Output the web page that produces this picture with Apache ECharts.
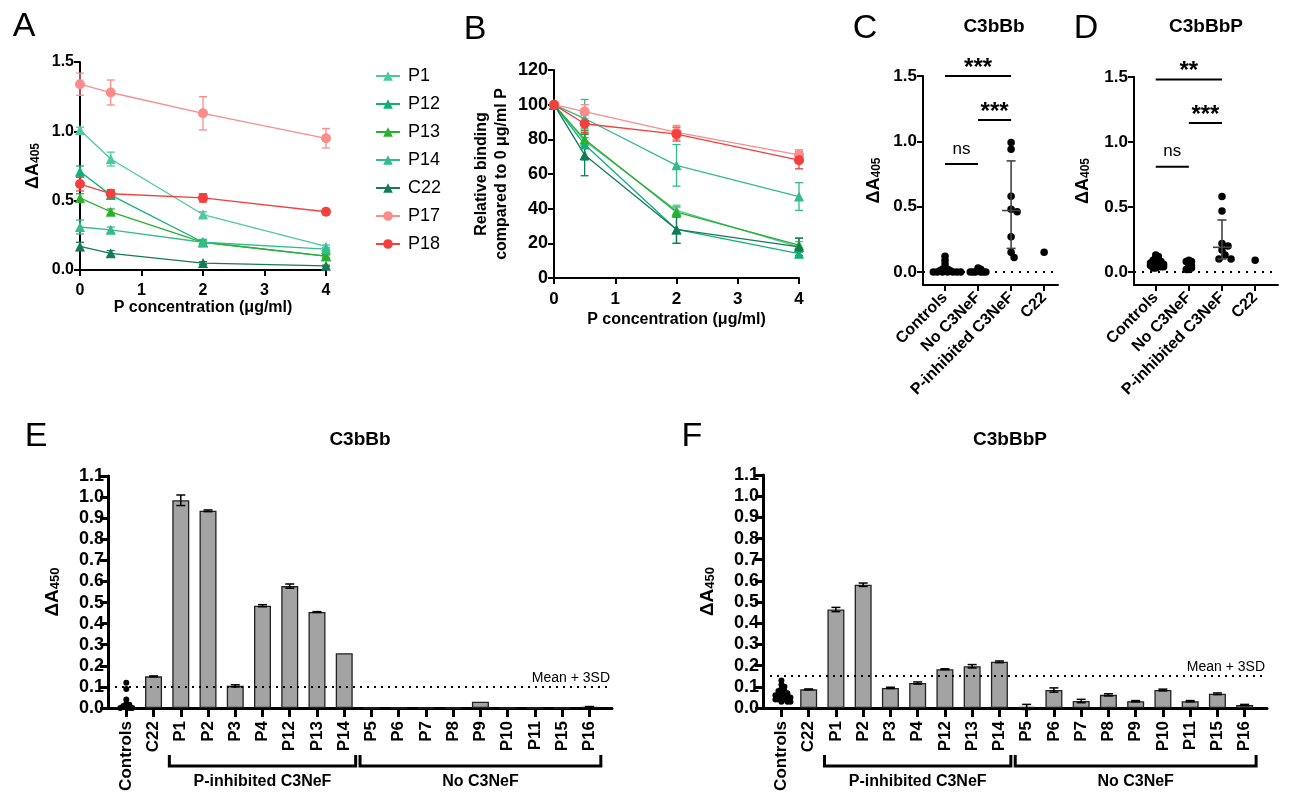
<!DOCTYPE html>
<html><head><meta charset="utf-8">
<script src="https://cdn.jsdelivr.net/npm/echarts@6/dist/echarts.min.js"></script>
<style>html,body{margin:0;padding:0;background:#fff}#c{width:1292px;height:803px}</style>
</head><body><div id="c"></div>
<script>
// ---------- DATA ----------
const conc = [0, 0.5, 2, 4];
const lineNames = ['P1', 'P12', 'P13', 'P14', 'C22', 'P17', 'P18'];
// Panel A: absolute binding (ΔA405)
const absP1 = [1.01, 0.80, 0.40, 0.17];
const absP1Err = [0.02, 0.05, 0.02, 0.01];
const absP12 = [0.71, 0.54, 0.20, 0.10];
const absP12Err = [0.04, 0.03, 0.02, 0.01];
const absP13 = [0.52, 0.42, 0.20, 0.10];
const absP13Err = [0.03, 0.02, 0.01, 0.01];
const absP14 = [0.31, 0.29, 0.20, 0.15];
const absP14Err = [0.05, 0.02, 0.02, 0.01];
const absC22 = [0.17, 0.12, 0.05, 0.03];
const absC22Err = [0.03, 0.02, 0.01, 0.005];
const absP17 = [1.34, 1.28, 1.13, 0.95];
const absP17Err = [0.08, 0.09, 0.12, 0.07];
const absP18 = [0.62, 0.55, 0.52, 0.42];
const absP18Err = [0.05, 0.03, 0.03, 0.01];
// Panel B: relative binding (%)
const relP1 = [100, 79, 39, 18];
const relP1Err = [0, 4, 3, 3];
const relP12 = [100, 77, 28, 14];
const relP12Err = [0, 9, 8, 2];
const relP13 = [100, 80, 38, 19];
const relP13Err = [0, 5, 3, 4];
const relP14 = [100, 92, 65, 47];
const relP14Err = [0, 11, 12, 8];
const relC22 = [100, 71, 28, 18];
const relC22Err = [0, 12, 8, 5];
const relP17 = [100, 96, 84, 71];
const relP17Err = [0, 4, 4, 3];
const relP18 = [100, 89, 83, 68];
const relP18Err = [0, 5, 4, 5];
// Panels C/D
const groupCats = ['Controls', 'No C3NeF', 'P-inhibited C3NeF', 'C22'];
const cControls = [0.12, 0.09, 0.06, 0.03, 0.02, 0.02, 0.01, 0.01, 0.01, 0.0, 0.0, 0.0, 0.0, 0.0, 0.0, 0.0];
const cNoC3NeF = [0.03, 0.02, 0.01, 0.0, 0.0, 0.0, 0.0, 0.0, 0.0];
const cPInhib = [0.99, 0.94, 0.58, 0.48, 0.46, 0.27, 0.15, 0.11];
const cC22 = [0.15];
const cPInhibSummary = [0.18, 0.47, 0.85];
const cSig = [[0, 2, 1.5], [1, 2, 1.163], [0, 1, 0.826]];
const cSigLabels = ['***', '***', 'ns'];
const dControls = [0.13, 0.12, 0.11, 0.10, 0.09, 0.09, 0.08, 0.08, 0.07, 0.07, 0.07, 0.06, 0.06, 0.06, 0.05, 0.05, 0.05, 0.04, 0.04, 0.04, 0.03, 0.03];
const dNoC3NeF = [0.09, 0.08, 0.08, 0.06, 0.05, 0.04, 0.03, 0.02, 0.02];
const dPInhib = [0.58, 0.47, 0.22, 0.20, 0.17, 0.13, 0.10, 0.10];
const dC22 = [0.09];
const dPInhibSummary = [0.10, 0.19, 0.40];
const dSig = [[0, 2, 1.48], [1, 2, 1.147], [0, 1, 0.81]];
const dSigLabels = ['**', '***', 'ns'];
// Panels E/F
const barCats = ['Controls', 'C22', 'P1', 'P2', 'P3', 'P4', 'P12', 'P13', 'P14', 'P5', 'P6', 'P7', 'P8', 'P9', 'P10', 'P11', 'P15', 'P16'];
const eBars = [null, 0.15, 0.985, 0.935, 0.105, 0.485, 0.578, 0.455, 0.26, 0, 0, 0, 0, 0.03, 0, 0, 0, 0.005];
const eErr = [null, 0.002, 0.025, 0.004, 0.005, 0.005, 0.01, 0.002, 0, 0, 0, 0, 0, 0, 0, 0, 0, 0.002];
const eControls = [0.12, 0.09, 0.04, 0.02, 0.015, 0.01, 0.005, 0.0, 0.0, 0.0];
const eThreshold = 0.105;
const fBars = [null, 0.088, 0.465, 0.582, 0.095, 0.118, 0.183, 0.197, 0.218, 0.005, 0.085, 0.033, 0.062, 0.032, 0.085, 0.032, 0.067, 0.014];
const fErr = [null, 0.002, 0.01, 0.008, 0.003, 0.005, 0.002, 0.008, 0.004, 0.012, 0.01, 0.008, 0.005, 0.003, 0.004, 0.003, 0.004, 0.003];
const fControls = [0.13, 0.11, 0.10, 0.09, 0.08, 0.08, 0.07, 0.07, 0.06, 0.06, 0.06, 0.05, 0.05, 0.05, 0.04, 0.04, 0.04, 0.03, 0.03, 0.03];
const fThreshold = 0.15;
const barGroups = [['P-inhibited C3NeF', 'P1', 'P14'], ['No C3NeF', 'P5', 'P16']];

// ---------- STYLE ----------
const FF = '"Liberation Sans", Arial, Helvetica, sans-serif';
const lineColors = ['#4cc9a1', '#10b07c', '#2bb02b', '#33bb8c', '#157a57', '#fb8c8c', '#f43f3f'];
const lineSymbols = ['triangle', 'triangle', 'triangle', 'triangle', 'triangle', 'circle', 'circle'];
const absSets = [[absP1, absP1Err], [absP12, absP12Err], [absP13, absP13Err], [absP14, absP14Err], [absC22, absC22Err], [absP17, absP17Err], [absP18, absP18Err]];
const relSets = [[relP1, relP1Err], [relP12, relP12Err], [relP13, relP13Err], [relP14, relP14Err], [relC22, relC22Err], [relP17, relP17Err], [relP18, relP18Err]];

function swarm(vals, yScale, xScale, d) {
  const placed = [], out = [];
  vals.forEach(v => {
    const y = v * yScale;
    let off = 0;
    for (let i = 0; i < 80; i++) {
      const k = i === 0 ? 0 : (i % 2 ? 1 : -1) * Math.ceil(i / 2);
      const cand = k * d * 0.5;
      if (placed.every(p => (p[0] - cand) ** 2 + (p[1] - y) ** 2 >= d * d)) { off = cand; break; }
    }
    placed.push([off, y]);
    out.push(off / xScale);
  });
  return out;
}
function swarmData(vals, idx, yScale, xScale, d) {
  const offs = swarm(vals, yScale, xScale, d);
  return vals.map((v, i) => [idx + offs[i], v]);
}

function errRender(cap, lw) {
  return function (params, api) {
    const x = api.value(0), y = api.value(1), e = api.value(2);
    if (!e) return null;
    const t = api.coord([x, y + e]), b = api.coord([x, y - e]);
    const st = { stroke: api.visual('color'), lineWidth: lw };
    return { type: 'group', children: [
      { type: 'line', shape: { x1: t[0], y1: t[1], x2: b[0], y2: b[1] }, style: st },
      { type: 'line', shape: { x1: t[0] - cap, y1: t[1], x2: t[0] + cap, y2: t[1] }, style: st },
      { type: 'line', shape: { x1: b[0] - cap, y1: b[1], x2: b[0] + cap, y2: b[1] }, style: st }
    ] };
  };
}
function summaryRender(params, api) {
  const x = api.value(0), lo = api.value(1), mid = api.value(2), hi = api.value(3);
  const pl = api.coord([x, lo]), pm = api.coord([x, mid]), ph = api.coord([x, hi]);
  const st = { stroke: '#444', lineWidth: 1.6 };
  return { type: 'group', children: [
    { type: 'line', shape: { x1: pl[0], y1: pl[1], x2: ph[0], y2: ph[1] }, style: st },
    { type: 'line', shape: { x1: pl[0] - 4.5, y1: pl[1], x2: pl[0] + 4.5, y2: pl[1] }, style: st },
    { type: 'line', shape: { x1: ph[0] - 4.5, y1: ph[1], x2: ph[0] + 4.5, y2: ph[1] }, style: st },
    { type: 'line', shape: { x1: pm[0] - 9, y1: pm[1], x2: pm[0] + 9, y2: pm[1] }, style: st }
  ] };
}
function sigRender(labels) {
  return function (params, api) {
    const p1 = api.coord([api.value(0), api.value(2)]), p2 = api.coord([api.value(1), api.value(2)]);
    const lab = labels[params.dataIndex];
    const isNs = lab === 'ns';
    return { type: 'group', children: [
      { type: 'line', shape: { x1: p1[0], y1: p1[1], x2: p2[0], y2: p2[1] }, style: { stroke: '#000', lineWidth: 2 } },
      { type: 'text', x: (p1[0] + p2[0]) / 2, y: p1[1] - (isNs ? 15 : 8),
        style: { text: lab, font: (isNs ? 'normal 17px ' : 'bold 24px ') + FF, fill: '#000', align: 'center', verticalAlign: 'middle', textAlign: 'center', textVerticalAlign: 'middle' } }
    ] };
  };
}
function bracketRender(params, api) {
  const a = api.coord([api.value(0), 0]), b = api.coord([api.value(1), 0]);
  const y0 = a[1];
  const st = { stroke: '#000', lineWidth: 3 };
  const yb = y0 + 58;
  return { type: 'group', children: [
    { type: 'polyline', shape: { points: [[a[0], y0 + 47], [a[0], yb], [b[0], yb], [b[0], y0 + 47]] }, style: Object.assign({ fill: 'none' }, st) },
    { type: 'text', x: (a[0] + b[0]) / 2, y: y0 + 74,
      style: { text: barGroups[params.dataIndex][0], font: 'bold 16px ' + FF, fill: '#000', align: 'center', verticalAlign: 'middle', textAlign: 'center', textVerticalAlign: 'middle' } }
  ] };
}

// ---------- AXES ----------
const axBase = (w, tickLen) => ({
  axisLine: { show: true, onZero: false, lineStyle: { color: '#000', width: w } },
  axisTick: { show: true, length: tickLen, lineStyle: { color: '#000', width: w } },
  splitLine: { show: false }
});
const lbl = (size, extra) => Object.assign({ color: '#000', fontWeight: 'bold', fontSize: size, fontFamily: FF }, extra || {});
const subName = (base, sub, big, small) => ({
  name: '{m|' + base + '}{s|' + sub + '}',
  nameTextStyle: { rich: {
    m: { fontSize: big, fontWeight: 'bold', fontFamily: FF, color: '#000', lineHeight: big, verticalAlign: 'top' },
    s: { fontSize: small, fontWeight: 'bold', fontFamily: FF, color: '#000', lineHeight: small, verticalAlign: 'bottom', padding: [Math.round(big * 0.55), 0, 0, 0] }
  } }
});
const catIdx = barCats.map((c, i) => i);

const xAxes = [
  Object.assign(axBase(2, 6), { gridIndex: 0, type: 'value', min: 0, max: 4, interval: 1,
    axisLabel: lbl(16, { margin: 13 }),
    name: 'P concentration (μg/ml)', nameLocation: 'middle', nameGap: 28,
    nameTextStyle: { fontSize: 16, fontWeight: 'bold', fontFamily: FF, color: '#000' } }),
  Object.assign(axBase(2, 6), { gridIndex: 1, type: 'value', min: 0, max: 4, interval: 1,
    axisLabel: lbl(17, { margin: 13 }),
    name: 'P concentration (μg/ml)', nameLocation: 'middle', nameGap: 34,
    nameTextStyle: { fontSize: 16, fontWeight: 'bold', fontFamily: FF, color: '#000' } }),
  Object.assign(axBase(2, 6), { gridIndex: 2, type: 'value', min: -0.667, max: 3.42 }),
  Object.assign(axBase(2, 6), { gridIndex: 3, type: 'value', min: -0.656, max: 3.69 }),
  Object.assign(axBase(3, 9), { gridIndex: 4, type: 'value', min: -0.672, max: 17.83 }),
  Object.assign(axBase(3, 9), { gridIndex: 5, type: 'value', min: -0.676, max: 17.82 })
];
[2, 3].forEach(i => {
  xAxes[i].axisTick.customValues = [0, 1, 2, 3];
  xAxes[i].axisLabel = lbl(16, { customValues: [0, 1, 2, 3], rotate: 45, margin: 10, formatter: v => groupCats[Math.round(v)] });
});
[4, 5].forEach(i => {
  xAxes[i].axisTick.customValues = catIdx;
  xAxes[i].axisLabel = lbl(17, { customValues: catIdx, rotate: 90, margin: 13, formatter: v => barCats[Math.round(v)] });
});

const yAxes = [
  Object.assign(axBase(2, 6), { gridIndex: 0, type: 'value', min: 0, max: 1.5, interval: 0.5,
    axisLabel: lbl(16, { margin: 6, formatter: v => v.toFixed(1) }),
    nameLocation: 'middle', nameRotate: 90, nameGap: 38 }, subName('ΔA', '405', 18, 12)),
  Object.assign(axBase(2, 6), { gridIndex: 1, type: 'value', min: 0, max: 120, interval: 20,
    axisLabel: lbl(18, { margin: 6 }),
    name: 'Relative binding\ncompared to 0 μg/ml P', nameLocation: 'middle', nameRotate: 90, nameGap: 42,
    nameTextStyle: { fontSize: 16, fontWeight: 'bold', fontFamily: FF, color: '#000', lineHeight: 20 } }),
  Object.assign(axBase(2, 6), { gridIndex: 2, type: 'value', min: -0.1, max: 1.5,
    nameLocation: 'middle', nameRotate: 90, nameGap: 40 }, subName('ΔA', '405', 18, 12)),
  Object.assign(axBase(2, 6), { gridIndex: 3, type: 'value', min: -0.1, max: 1.5,
    nameLocation: 'middle', nameRotate: 90, nameGap: 42 }, subName('ΔA', '405', 18, 12)),
  Object.assign(axBase(3, 8), { gridIndex: 4, type: 'value', min: 0, max: 1.1, interval: 0.1,
    axisLabel: lbl(18, { margin: 4, formatter: v => v.toFixed(1) }),
    nameLocation: 'middle', nameRotate: 90, nameGap: 46 }, subName('ΔA', '450', 19, 13)),
  Object.assign(axBase(3, 8), { gridIndex: 5, type: 'value', min: 0, max: 1.1, interval: 0.1,
    axisLabel: lbl(18, { margin: 4, formatter: v => v.toFixed(1) }),
    nameLocation: 'middle', nameRotate: 90, nameGap: 46 }, subName('ΔA', '450', 19, 13))
];
[2, 3].forEach(i => {
  yAxes[i].axisTick.customValues = [0, 0.5, 1, 1.5];
  yAxes[i].axisLabel = lbl(17, { customValues: [0, 0.5, 1, 1.5], margin: 6, formatter: v => v.toFixed(1) });
});

// ---------- SERIES ----------
const series = [];
function addLines(sets, gi) {
  sets.forEach((s, i) => {
    const vals = s[0], errs = s[1];
    series.push({ type: 'custom', name: lineNames[i] + ' err', xAxisIndex: gi, yAxisIndex: gi, clip: false,
      itemStyle: { color: lineColors[i] }, renderItem: errRender(4, 1.3),
      data: conc.map((x, k) => [x, vals[k], errs[k]]), z: 2 });
    series.push({ type: 'line', name: lineNames[i], xAxisIndex: gi, yAxisIndex: gi, clip: false,
      symbol: lineSymbols[i], symbolSize: 10,
      itemStyle: { color: lineColors[i] }, lineStyle: { color: lineColors[i], width: 1.3 },
      data: conc.map((x, k) => [x, vals[k]]), z: 3 });
  });
}
addLines(absSets, 0);
addLines(relSets, 1);

function addGroupPanel(gi, groups, summary, sig, sigLabels) {
  const yS = 130.5, xS = 33;
  groups.forEach((vals, idx) => {
    const sd = { type: 'scatter', xAxisIndex: gi, yAxisIndex: gi, symbol: 'circle', symbolSize: 7.5,
      itemStyle: { color: '#000', opacity: 1 }, data: swarmData(vals, idx, yS, xS, idx === 2 ? 6 : 2.6), z: 4 };
    if (idx === 0) {
      sd.markLine = { silent: true, symbol: 'none', data: [{ yAxis: 0 }],
        lineStyle: { color: '#000', width: 2, type: [2, 6] }, label: { show: false } };
    }
    series.push(sd);
  });
  series.push({ type: 'custom', xAxisIndex: gi, yAxisIndex: gi, clip: false, renderItem: summaryRender,
    data: [[2, summary[0], summary[1], summary[2]]], z: 5 });
  series.push({ type: 'custom', xAxisIndex: gi, yAxisIndex: gi, clip: false, renderItem: sigRender(sigLabels),
    data: sig, z: 5 });
}
addGroupPanel(2, [cControls, cNoC3NeF, cPInhib, cC22], cPInhibSummary, cSig, cSigLabels);
addGroupPanel(3, [dControls, dNoC3NeF, dPInhib, dC22], dPInhibSummary, dSig, dSigLabels);

function addBarPanel(gi, bars, errs, controls, thr) {
  series.push({ type: 'bar', xAxisIndex: gi, yAxisIndex: gi, barWidth: 17,
    itemStyle: { color: '#a3a3a3', borderColor: '#222', borderWidth: 1.3 },
    data: bars.map((v, i) => v == null ? null : [i, v]).filter(Boolean),
    markLine: { silent: true, symbol: 'none', data: [{ yAxis: thr }],
      lineStyle: { color: '#000', width: 2, type: [2, 5] },
      label: { show: true, position: 'insideEndTop', distance: 2, formatter: 'Mean + 3SD',
        color: '#000', fontSize: 14, fontFamily: FF, fontWeight: 'normal' } }, z: 2 });
  series.push({ type: 'custom', xAxisIndex: gi, yAxisIndex: gi, clip: false,
    itemStyle: { color: '#000' }, renderItem: errRender(4.5, 1.5),
    data: bars.map((v, i) => v == null ? null : [i, v, errs[i]]).filter(Boolean), z: 3 });
  series.push({ type: 'scatter', xAxisIndex: gi, yAxisIndex: gi, symbol: 'circle', symbolSize: 6,
    itemStyle: { color: '#000', opacity: 1 }, data: swarmData(controls, 0, 211, 27.2, 3), z: 4 });
  series.push({ type: 'custom', xAxisIndex: gi, yAxisIndex: gi, clip: false, renderItem: bracketRender,
    data: barGroups.map(g => [barCats.indexOf(g[1]) - 0.42, barCats.indexOf(g[2]) + 0.42]), z: 5 });
}
addBarPanel(4, eBars, eErr, eControls, eThreshold);
addBarPanel(5, fBars, fErr, fControls, fThreshold);

// ---------- TEXT ----------
const txt = (t, x, y, font) => ({ type: 'text', x: x, y: y, silent: true,
  style: { text: t, font: font, fill: '#000', align: 'center', verticalAlign: 'middle', textAlign: 'center', textVerticalAlign: 'middle' } });
const letterFont = 'normal 34px ' + FF;
const titleFont = 'bold 19px ' + FF;

const option = {
  animation: false,
  backgroundColor: '#fff',
  grid: [
    { left: 80, top: 62, width: 246, height: 208 },
    { left: 554, top: 70, width: 245, height: 208 },
    { left: 923, top: 76, width: 135, height: 209 },
    { left: 1134, top: 77, width: 144, height: 208 },
    { left: 108, top: 476, width: 504, height: 232 },
    { left: 763, top: 475, width: 504, height: 233 }
  ],
  xAxis: xAxes,
  yAxis: yAxes,
  legend: { data: lineNames, orient: 'vertical', left: 370, top: 61, itemWidth: 24, itemHeight: 12, itemGap: 8,
    textStyle: { fontSize: 18, fontFamily: FF, color: '#000', lineHeight: 20, padding: [0, 0, 0, 3] } },
  graphic: [
    txt('A', 24, 27, letterFont), txt('B', 475, 30, letterFont), txt('C', 865, 29, letterFont),
    txt('D', 1086, 29, letterFont), txt('E', 36, 437, letterFont), txt('F', 692, 437, letterFont),
    txt('C3bBb', 994, 27, titleFont), txt('C3bBbP', 1206, 27, titleFont),
    txt('C3bBb', 360, 440, titleFont), txt('C3bBbP', 1010, 440, titleFont)
  ],
  series: series
};
const chart = echarts.init(document.getElementById('c'), null, { renderer: 'canvas' });
chart.setOption(option);
</script></body></html>
